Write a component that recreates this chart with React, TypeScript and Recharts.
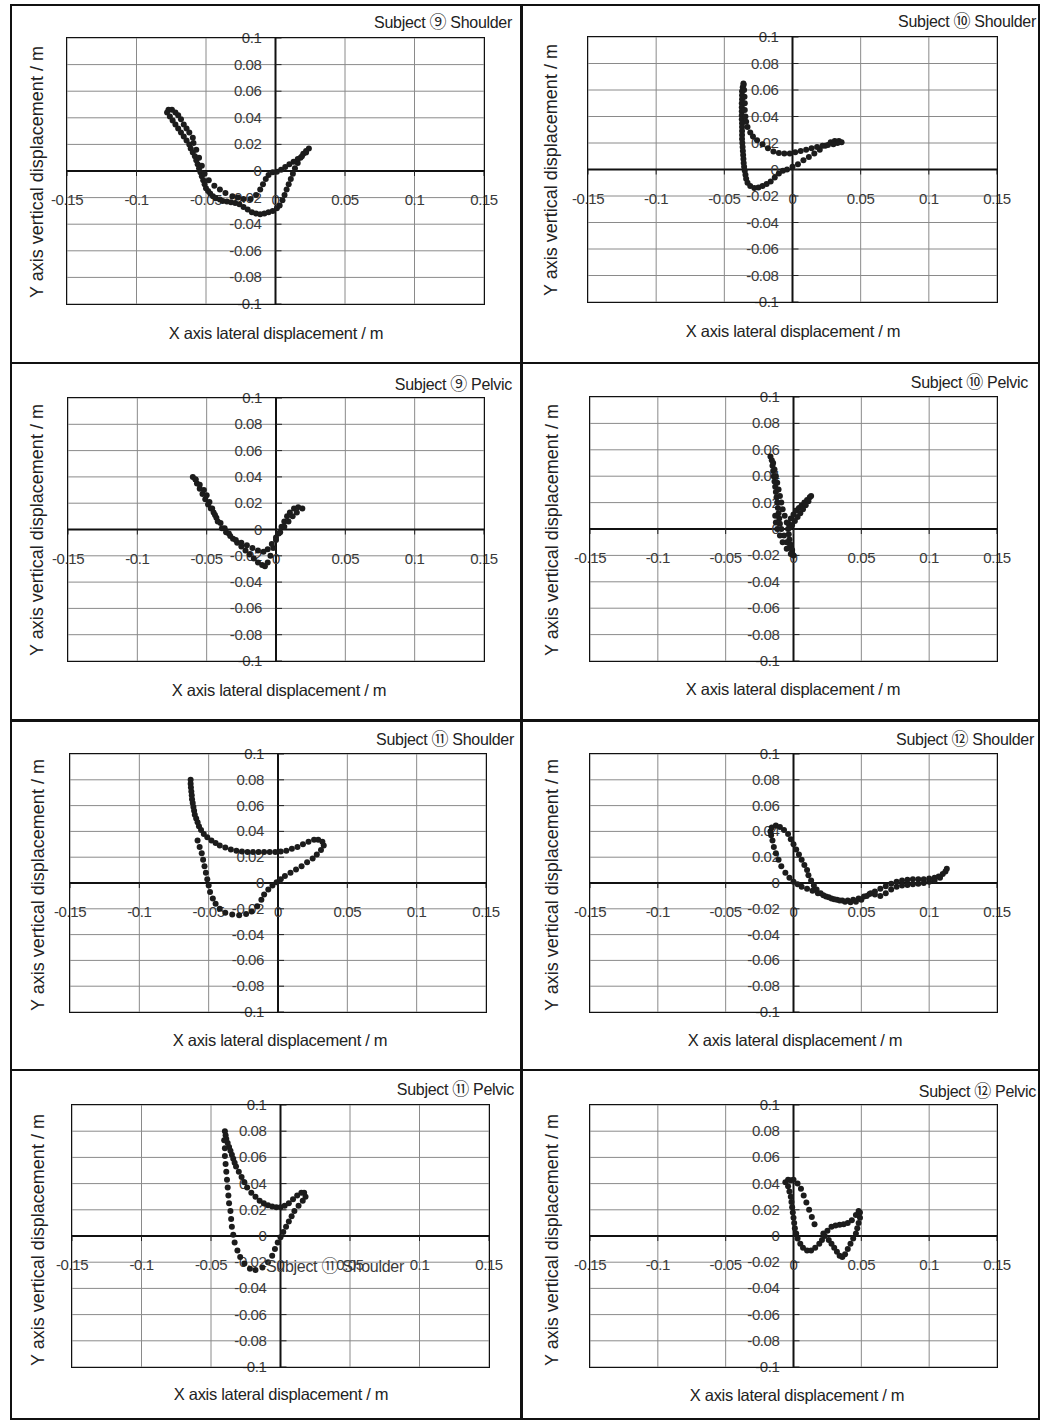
import React from 'react';
import { ScatterChart, Scatter, XAxis, YAxis, CartesianGrid, ReferenceLine, ReferenceDot } from 'recharts';

// axis ticks shared by all eight panels (metres)
const xTicks = [-0.15, -0.1, -0.05, 0, 0.05, 0.1, 0.15];
const yTicks = [-0.1, -0.08, -0.06, -0.04, -0.02, 0, 0.02, 0.04, 0.06, 0.08, 0.1];

const xTitle = 'X axis lateral displacement / m';
const yTitle = 'Y axis vertical displacement / m';

type Pt = [number, number];

// trajectories, [x, y] in metres
const s9Shoulder: Pt[] = [
  [-0.0595, 0.025], [-0.062, 0.029], [-0.064, 0.032], [-0.066, 0.035], [-0.068, 0.039], [-0.07, 0.042], [-0.072, 0.044],
  [-0.0745, 0.046], [-0.077, 0.046], [-0.078, 0.044], [-0.076, 0.041], [-0.074, 0.038], [-0.072, 0.035], [-0.07, 0.032],
  [-0.068, 0.029], [-0.066, 0.026], [-0.064, 0.023], [-0.062, 0.02], [-0.061, 0.017], [-0.0595, 0.014], [-0.058, 0.011],
  [-0.057, 0.008], [-0.056, 0.005], [-0.055, 0.002], [-0.054, -0.001], [-0.053, -0.004], [-0.052, -0.007], [-0.051, -0.01],
  [-0.05, -0.013], [-0.0485, -0.015], [-0.047, -0.017], [-0.045, -0.019], [-0.043, -0.0205], [-0.04, -0.0215],
  [-0.038, -0.0225], [-0.035, -0.023], [-0.032, -0.0235], [-0.029, -0.024], [-0.026, -0.025], [-0.023, -0.027],
  [-0.02, -0.029], [-0.017, -0.031], [-0.014, -0.032], [-0.011, -0.0325], [-0.008, -0.032], [-0.005, -0.031],
  [-0.002, -0.03], [0.001, -0.028], [0.003, -0.026], [0.005, -0.022], [0.0065, -0.018], [0.008, -0.014], [0.0095, -0.01],
  [0.011, -0.006], [0.0125, -0.002], [0.014, 0.002], [0.016, 0.006], [0.018, 0.01], [0.02, 0.013], [0.022, 0.015],
  [0.024, 0.017], [0.022, 0.014], [0.019, 0.011], [0.016, 0.009], [0.013, 0.007], [0.01, 0.005], [0.007, 0.003],
  [0.004, 0.001], [0.001, -0.0005], [-0.002, -0.001], [-0.005, -0.003], [-0.007, -0.006], [-0.009, -0.01],
  [-0.011, -0.014], [-0.014, -0.018], [-0.018, -0.021], [-0.023, -0.021], [-0.027, -0.02], [-0.031, -0.019],
  [-0.036, -0.0165], [-0.04, -0.014], [-0.044, -0.011], [-0.048, -0.007], [-0.051, -0.002], [-0.053, 0.004],
  [-0.055, 0.01], [-0.057, 0.016], [-0.059, 0.021],
];

const s10Shoulder: Pt[] = [
  [-0.036, 0.065], [-0.0365, 0.062], [-0.037, 0.059], [-0.037, 0.056], [-0.037, 0.053], [-0.0372, 0.05], [-0.0372, 0.047],
  [-0.0372, 0.044], [-0.0372, 0.041], [-0.0372, 0.038], [-0.037, 0.035], [-0.037, 0.032], [-0.037, 0.029], [-0.037, 0.026],
  [-0.037, 0.023], [-0.0368, 0.02], [-0.0366, 0.017], [-0.0364, 0.014], [-0.0362, 0.011], [-0.036, 0.008], [-0.0358, 0.005],
  [-0.0355, 0.002], [-0.035, -0.001], [-0.0345, -0.004], [-0.034, -0.007], [-0.033, -0.01], [-0.031, -0.0125],
  [-0.028, -0.014], [-0.025, -0.0135], [-0.022, -0.0125], [-0.019, -0.011], [-0.016, -0.009], [-0.013, -0.006],
  [-0.01, -0.003], [-0.007, -0.001], [-0.004, 0.0], [0.0, 0.002], [0.004, 0.004], [0.008, 0.007], [0.012, 0.0095],
  [0.016, 0.012], [0.02, 0.015], [0.024, 0.018], [0.028, 0.0205], [0.031, 0.0215], [0.034, 0.0215], [0.036, 0.0205],
  [0.033, 0.02], [0.03, 0.019], [0.026, 0.0185], [0.022, 0.018], [0.018, 0.017], [0.014, 0.016], [0.01, 0.015],
  [0.006, 0.014], [0.002, 0.013], [-0.002, 0.012], [-0.006, 0.012], [-0.01, 0.0125], [-0.014, 0.0135], [-0.018, 0.016],
  [-0.022, 0.019], [-0.026, 0.022], [-0.029, 0.025], [-0.031, 0.028], [-0.033, 0.032], [-0.034, 0.036], [-0.0345, 0.04],
  [-0.035, 0.045], [-0.035, 0.05], [-0.0352, 0.055], [-0.0355, 0.06], [-0.0358, 0.064],
];

const s9Pelvic: Pt[] = [
  [-0.06, 0.04], [-0.058, 0.038], [-0.057, 0.035], [-0.055, 0.031], [-0.053, 0.027], [-0.051, 0.023], [-0.049, 0.019],
  [-0.047, 0.016], [-0.045, 0.013], [-0.043, 0.009], [-0.04, 0.005], [-0.037, 0.001], [-0.034, -0.003], [-0.031, -0.007],
  [-0.028, -0.01], [-0.025, -0.013], [-0.022, -0.016], [-0.019, -0.019], [-0.016, -0.022], [-0.013, -0.025],
  [-0.01, -0.027], [-0.008, -0.028], [-0.006, -0.025], [-0.004, -0.02], [-0.002, -0.014], [0.0, -0.008], [0.002, -0.003],
  [0.004, 0.002], [0.006, 0.006], [0.008, 0.01], [0.01, 0.013], [0.013, 0.016], [0.016, 0.017], [0.019, 0.016],
  [0.015, 0.013], [0.012, 0.01], [0.009, 0.006], [0.006, 0.002], [0.003, -0.002], [0.0, -0.006], [-0.003, -0.011],
  [-0.006, -0.015], [-0.009, -0.017], [-0.013, -0.016], [-0.017, -0.014], [-0.021, -0.012], [-0.025, -0.01],
  [-0.029, -0.008], [-0.033, -0.005], [-0.036, -0.002], [-0.039, 0.001], [-0.042, 0.006], [-0.044, 0.011],
  [-0.046, 0.016], [-0.048, 0.021], [-0.05, 0.026], [-0.052, 0.03], [-0.055, 0.034], [-0.058, 0.038],
];

const s10Pelvic: Pt[] = [
  [-0.017, 0.055], [-0.016, 0.052], [-0.0155, 0.048], [-0.015, 0.044], [-0.0145, 0.04], [-0.014, 0.036], [-0.0135, 0.032],
  [-0.013, 0.028], [-0.0125, 0.024], [-0.012, 0.02], [-0.0115, 0.016], [-0.011, 0.012], [-0.0105, 0.008], [-0.01, 0.004],
  [-0.009, 0.0], [-0.007, -0.005], [-0.005, -0.01], [-0.003, -0.014], [-0.001, -0.018], [0.0, -0.02], [-0.001, -0.016],
  [-0.002, -0.012], [-0.003, -0.008], [-0.0035, -0.004], [-0.004, 0.0], [-0.0035, 0.004], [-0.002, 0.008], [0.0, 0.011],
  [0.002, 0.014], [0.004, 0.016], [0.006, 0.018], [0.008, 0.02], [0.01, 0.022], [0.012, 0.024], [0.013, 0.025],
  [0.011, 0.021], [0.009, 0.018], [0.007, 0.015], [0.005, 0.012], [0.003, 0.009], [0.001, 0.006], [-0.001, 0.003],
  [-0.003, 0.001], [-0.005, 0.005], [-0.0065, 0.01], [-0.008, 0.015], [-0.009, 0.02], [-0.01, 0.025], [-0.011, 0.03],
  [-0.012, 0.035], [-0.013, 0.04], [-0.014, 0.045], [-0.015, 0.05], [-0.0135, 0.01], [-0.013, 0.005], [-0.012, 0.0],
  [-0.01, -0.005], [-0.008, -0.01], [-0.005, -0.015], [-0.002, -0.019],
];

const s11Shoulder: Pt[] = [
  [-0.063, 0.08], [-0.063, 0.077], [-0.0628, 0.074], [-0.0625, 0.071], [-0.0622, 0.068], [-0.062, 0.065], [-0.0615, 0.062],
  [-0.061, 0.059], [-0.0605, 0.056], [-0.06, 0.053], [-0.059, 0.05], [-0.058, 0.047], [-0.057, 0.044], [-0.0555, 0.041],
  [-0.0535, 0.038], [-0.051, 0.0355], [-0.048, 0.033], [-0.045, 0.031], [-0.042, 0.029], [-0.038, 0.0275], [-0.034, 0.026],
  [-0.03, 0.025], [-0.026, 0.0245], [-0.022, 0.024], [-0.018, 0.024], [-0.014, 0.024], [-0.01, 0.024], [-0.006, 0.024],
  [-0.002, 0.024], [0.002, 0.0245], [0.006, 0.025], [0.01, 0.0265], [0.014, 0.028], [0.018, 0.03], [0.022, 0.032],
  [0.026, 0.0335], [0.029, 0.0335], [0.032, 0.032], [0.033, 0.029], [0.031, 0.0255], [0.028, 0.022], [0.025, 0.019],
  [0.021, 0.016], [0.017, 0.013], [0.013, 0.0105], [0.009, 0.008], [0.005, 0.0055], [0.002, 0.003], [-0.001, 0.0005],
  [-0.004, -0.002], [-0.007, -0.005], [-0.01, -0.009], [-0.012, -0.013], [-0.015, -0.018], [-0.019, -0.022],
  [-0.023, -0.024], [-0.028, -0.025], [-0.033, -0.0245], [-0.038, -0.023], [-0.042, -0.02], [-0.045, -0.016],
  [-0.047, -0.012], [-0.049, -0.007], [-0.05, -0.002], [-0.051, 0.003], [-0.052, 0.008], [-0.053, 0.013], [-0.054, 0.018],
  [-0.055, 0.023], [-0.0565, 0.028], [-0.058, 0.033],
];

const s12Shoulder: Pt[] = [
  [-0.017, 0.04], [-0.016, 0.043], [-0.013, 0.0445], [-0.01, 0.0435], [-0.007, 0.041], [-0.004, 0.038], [-0.002, 0.034],
  [0.0, 0.03], [0.002, 0.026], [0.004, 0.022], [0.006, 0.018], [0.008, 0.014], [0.01, 0.01], [0.011, 0.006], [0.013, 0.002],
  [0.015, -0.002], [0.017, -0.005], [0.02, -0.008], [0.024, -0.0105], [0.028, -0.012], [0.032, -0.013], [0.036, -0.0135],
  [0.04, -0.0135], [0.044, -0.013], [0.048, -0.012], [0.052, -0.0105], [0.056, -0.0085], [0.06, -0.0065], [0.064, -0.0045],
  [0.068, -0.0025], [0.072, -0.0005], [0.076, 0.001], [0.08, 0.002], [0.084, 0.0025], [0.088, 0.003], [0.092, 0.003],
  [0.096, 0.003], [0.1, 0.0035], [0.104, 0.004], [0.107, 0.005], [0.11, 0.007], [0.112, 0.009], [0.113, 0.011],
  [0.108, 0.004], [0.104, 0.002], [0.1, 0.001], [0.096, 0.0], [0.092, -0.0005], [0.088, -0.001], [0.084, -0.0015],
  [0.08, -0.002], [0.076, -0.003], [0.072, -0.005], [0.068, -0.008], [0.064, -0.01], [0.06, -0.009], [0.057, -0.008],
  [0.054, -0.01], [0.05, -0.013], [0.046, -0.0145], [0.042, -0.015], [0.038, -0.0145], [0.034, -0.0135], [0.03, -0.0125],
  [0.026, -0.011], [0.022, -0.0095], [0.018, -0.008], [0.014, -0.006], [0.01, -0.0045], [0.006, -0.003], [0.003, -0.001],
  [0.0, 0.001], [-0.003, 0.004], [-0.006, 0.008], [-0.009, 0.013], [-0.011, 0.018], [-0.013, 0.023], [-0.0145, 0.028],
  [-0.0155, 0.033], [-0.0165, 0.037],
];

const s11Pelvic: Pt[] = [
  [-0.04, 0.08], [-0.0395, 0.077], [-0.039, 0.074], [-0.038, 0.071], [-0.037, 0.068], [-0.036, 0.065], [-0.035, 0.062],
  [-0.034, 0.059], [-0.033, 0.056], [-0.032, 0.053], [-0.03, 0.049], [-0.028, 0.045], [-0.026, 0.041], [-0.024, 0.037],
  [-0.021, 0.033], [-0.018, 0.03], [-0.015, 0.027], [-0.012, 0.025], [-0.009, 0.0235], [-0.006, 0.0225], [-0.003, 0.022],
  [0.0, 0.022], [0.003, 0.023], [0.006, 0.025], [0.009, 0.028], [0.012, 0.031], [0.015, 0.033], [0.017, 0.033],
  [0.018, 0.03], [0.016, 0.027], [0.013, 0.023], [0.01, 0.019], [0.008, 0.015], [0.006, 0.011], [0.004, 0.007],
  [0.002, 0.003], [0.0, -0.001], [-0.002, -0.005], [-0.004, -0.01], [-0.006, -0.015], [-0.009, -0.02], [-0.013, -0.024],
  [-0.018, -0.026], [-0.022, -0.025], [-0.026, -0.021], [-0.029, -0.016], [-0.031, -0.011], [-0.033, -0.005],
  [-0.034, 0.001], [-0.035, 0.007], [-0.0355, 0.013], [-0.036, 0.019], [-0.037, 0.025], [-0.0375, 0.031], [-0.038, 0.037],
  [-0.0385, 0.043], [-0.039, 0.049], [-0.0395, 0.055], [-0.04, 0.061], [-0.04, 0.067], [-0.0405, 0.073],
];

const s12Pelvic: Pt[] = [
  [-0.006, 0.041], [-0.004, 0.043], [-0.002, 0.0425], [-0.004, 0.038], [-0.003, 0.034], [-0.002, 0.03], [-0.0015, 0.026],
  [-0.001, 0.022], [-0.0005, 0.018], [0.0, 0.014], [0.0005, 0.01], [0.001, 0.006], [0.002, 0.002], [0.003, -0.002],
  [0.005, -0.006], [0.007, -0.009], [0.01, -0.011], [0.013, -0.011], [0.016, -0.009], [0.019, -0.006], [0.021, -0.003],
  [0.023, 0.0], [0.026, -0.003], [0.028, -0.006], [0.03, -0.009], [0.032, -0.012], [0.034, -0.015], [0.036, -0.016],
  [0.038, -0.014], [0.04, -0.01], [0.042, -0.006], [0.044, -0.002], [0.046, 0.002], [0.047, 0.006], [0.048, 0.01],
  [0.049, 0.014], [0.049, 0.018], [0.048, 0.019], [0.046, 0.016], [0.043, 0.012], [0.04, 0.01], [0.037, 0.009],
  [0.034, 0.0085], [0.031, 0.008], [0.028, 0.007], [0.025, 0.004], [0.022, 0.002], [0.0155, 0.009], [0.0135, 0.0145],
  [0.0115, 0.02], [0.0095, 0.0255], [0.0075, 0.031], [0.0055, 0.036], [0.003, 0.04], [0.0, 0.043],
];

// page layout of each panel: plot rectangle and text anchors in page pixels
const panels = [
  { subj: '⑨', part: 'Shoulder', pts: s9Shoulder, plot: [67, 38, 417, 266], titleR: 512, titleY: 21, xl: [276, 333], yl: [37, 172] },
  { subj: '⑩', part: 'Shoulder', pts: s10Shoulder, plot: [588, 37, 409, 265], titleR: 1036, titleY: 20, xl: [793, 331], yl: [551, 170] },
  { subj: '⑨', part: 'Pelvic', pts: s9Pelvic, plot: [68, 398, 416, 263], titleR: 512, titleY: 383, xl: [279, 690], yl: [37, 530] },
  { subj: '⑩', part: 'Pelvic', pts: s10Pelvic, plot: [590, 397, 407, 264], titleR: 1028, titleY: 381, xl: [793, 689], yl: [552, 530] },
  { subj: '⑪', part: 'Shoulder', pts: s11Shoulder, plot: [70, 754, 416, 258], titleR: 514, titleY: 738, xl: [280, 1040], yl: [38, 885] },
  { subj: '⑫', part: 'Shoulder', pts: s12Shoulder, plot: [590, 754, 407, 258], titleR: 1034, titleY: 738, xl: [795, 1040], yl: [552, 885] },
  { subj: '⑪', part: 'Pelvic', pts: s11Pelvic, plot: [72, 1105, 417, 262], titleR: 514, titleY: 1088, xl: [281, 1394], yl: [38, 1240] },
  { subj: '⑫', part: 'Pelvic', pts: s12Pelvic, plot: [590, 1105, 407, 262], titleR: 1036, titleY: 1090, xl: [797, 1395], yl: [552, 1240] },
];

const PAGE_W = 1043;
const PAGE_H = 1422;
const M = 25;
const FONT = "'Liberation Sans', Arial, sans-serif";
const CJK = "'Noto Sans CJK JP', sans-serif";

const Dot = (p: any) => <circle cx={p.cx} cy={p.cy} r={3} fill="#1c1c1c" />;

const xTickShape = (label: string) => (p: any) => (
  <g>
    <line x1={p.cx} x2={p.cx} y1={p.cy} y2={p.cy + 5} stroke="#222" strokeWidth={1} />
    <text x={p.cx} y={p.cy + 34} textAnchor="middle" fontSize={15} fontFamily={FONT} fill="#3a3a3a" letterSpacing={-0.4}>
      {label}
    </text>
  </g>
);

const yTickShape = (label: string) => (p: any) => (
  <g>
    <line x1={p.cx} x2={p.cx + 6} y1={p.cy} y2={p.cy} stroke="#222" strokeWidth={1} />
    <text x={p.cx - 14} y={p.cy + 5} textAnchor="end" fontSize={15} fontFamily={FONT} fill="#3a3a3a" letterSpacing={-0.4}>
      {label}
    </text>
  </g>
);

function Title({ subj, part }: { subj: string; part: string }) {
  return (
    <>
      Subject <span style={{ fontFamily: CJK, fontSize: 17 }}>{subj}</span> {part}
    </>
  );
}

function Panel({ cfg }: { cfg: (typeof panels)[number] }) {
  const [px, py, pw, ph] = cfg.plot;
  const data = cfg.pts.map(([x, y]) => ({ x, y }));

  return (
    <>
      <div style={{ position: 'absolute', left: px - M, top: py - M }}>
        <ScatterChart width={pw + 2 * M} height={ph + 2 * M} margin={{ top: M, right: M, bottom: M, left: M }}>
          <CartesianGrid stroke="#8a8a8a" strokeWidth={1} />
          <XAxis type="number" dataKey="x" domain={[-0.15, 0.15]} ticks={xTicks} interval={0} hide allowDataOverflow />
          <YAxis type="number" dataKey="y" domain={[-0.1, 0.1]} ticks={yTicks} interval={0} hide allowDataOverflow />
          <ReferenceLine x={0} stroke="#111" strokeWidth={2} />
          <ReferenceLine y={0} stroke="#111" strokeWidth={2} />
          {xTicks.map((v) => (
            <ReferenceDot key={'x' + v} x={v} y={0} r={0} ifOverflow="visible" shape={xTickShape(String(v))} />
          ))}
          {yTicks.map((v) => (
            <ReferenceDot key={'y' + v} x={0} y={v} r={0} ifOverflow="visible" shape={yTickShape(String(v))} />
          ))}
          <Scatter data={data} shape={Dot} isAnimationActive={false} />
        </ScatterChart>
      </div>
      <div
        style={{
          position: 'absolute', left: px - 1, top: py - 1, width: pw + 2, height: ph + 2,
          border: '1.5px solid #111', boxSizing: 'border-box', pointerEvents: 'none',
        }}
      />
      <div
        style={{
          position: 'absolute', right: PAGE_W - cfg.titleR, top: cfg.titleY - 10, fontSize: 16, lineHeight: '20px',
          fontFamily: FONT, color: '#222', whiteSpace: 'nowrap', letterSpacing: -0.3,
        }}
      >
        <Title subj={cfg.subj} part={cfg.part} />
      </div>
      <div
        style={{
          position: 'absolute', left: cfg.xl[0], top: cfg.xl[1], transform: 'translate(-50%, -50%)', fontSize: 16.5,
          lineHeight: '18px', fontFamily: FONT, color: '#222', whiteSpace: 'nowrap', letterSpacing: -0.3,
        }}
      >
        {xTitle}
      </div>
      <div
        style={{
          position: 'absolute', left: cfg.yl[0], top: cfg.yl[1], transform: 'translate(-50%, -50%) rotate(-90deg)',
          fontSize: 18, lineHeight: '20px', fontFamily: FONT, color: '#222', whiteSpace: 'nowrap',
        }}
      >
        {yTitle}
      </div>
    </>
  );
}

export default function App() {
  return (
    <div style={{ position: 'absolute', left: 0, top: 0, width: PAGE_W, height: PAGE_H, background: '#fff', overflow: 'hidden' }}>
      {/* outer frame and panel separators */}
      <div style={{ position: 'absolute', left: 10, top: 4, width: 1030, height: 1416, border: '2px solid #111', boxSizing: 'border-box' }} />
      <div style={{ position: 'absolute', left: 520, top: 4, width: 3, height: 1416, background: '#111' }} />
      <div style={{ position: 'absolute', left: 10, top: 362, width: 1030, height: 2, background: '#111' }} />
      <div style={{ position: 'absolute', left: 10, top: 719, width: 1030, height: 3, background: '#111' }} />
      <div style={{ position: 'absolute', left: 10, top: 1069, width: 1030, height: 2, background: '#111' }} />
      {panels.map((p) => (
        <Panel key={p.subj + p.part} cfg={p} />
      ))}
      {/* stray overprinted caption in the source figure */}
      <div
        style={{
          position: 'absolute', left: 266, top: 1255, fontSize: 16, lineHeight: '20px', fontFamily: FONT,
          color: '#3a3a3a', whiteSpace: 'nowrap', letterSpacing: -0.3,
        }}
      >
        <Title subj="⑪" part="Shoulder" />
      </div>
    </div>
  );
}
